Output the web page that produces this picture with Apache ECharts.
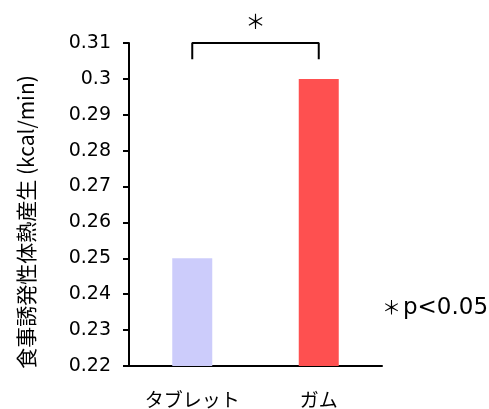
<!DOCTYPE html>
<html><head><meta charset="utf-8">
<script src="https://cdn.jsdelivr.net/npm/echarts@6/dist/echarts.min.js"></script>
<style>html,body{margin:0;padding:0;background:#fff}#c{width:489px;height:409px}</style>
</head><body><div id="c"></div>
<script>
var categories = ['タブレット', 'ガム'];
var values = [0.25, 0.30];
var barColors = ['#ccccfb', '#fe5050'];
var yTicks = { min: 0.22, max: 0.31, interval: 0.01 };
var bracketTop = 0.31;
var bracketFoot = 0.3055;
var yName = '食事誘発性体熱産生 (kcal/min)';
var sigMark = '＊';
var noteMark = '＊';
var noteText = 'p<0.05';

var chart = echarts.init(document.getElementById('c'));
var option = {
  animation: false,
  grid: { left: 129, right: 107, top: 43, bottom: 42 },
  xAxis: {
    type: 'category', data: categories,
    axisLine: { lineStyle: { color: '#000', width: 2 } },
    axisTick: { show: false },
    axisLabel: { color: '#000', fontSize: 19, margin: 24, fontFamily: '"Noto Sans CJK JP", sans-serif' }
  },
  yAxis: {
    type: 'value', min: yTicks.min, max: yTicks.max, interval: yTicks.interval,
    axisLine: { show: true, lineStyle: { color: '#000', width: 2 } },
    axisTick: { show: true, length: 6, lineStyle: { color: '#000', width: 2 } },
    axisLabel: { color: '#000', fontSize: 19, margin: 18, fontFamily: '"DejaVu Sans", sans-serif',
      formatter: function (v) { return String(parseFloat(v.toFixed(2))); } },
    splitLine: { show: false }
  },
  series: [
    {
      type: 'bar', barWidth: 40,
      data: values.map(function (v, i) { return { value: v, itemStyle: { color: barColors[i] } }; })
    },
    {
      type: 'line', symbol: 'none', clip: false,
      lineStyle: { color: '#000', width: 2 },
      data: [[categories[0], bracketFoot], [categories[0], bracketTop], [categories[1], bracketTop], [categories[1], bracketFoot]]
    }
  ]
};
chart.setOption(option);
var left = chart.convertToPixel({ seriesIndex: 1 }, [0, bracketTop]);
var right = chart.convertToPixel({ seriesIndex: 1 }, [1, bracketTop]);
chart.setOption({
  graphic: [
    { type: 'text', x: 26, y: 222, rotation: Math.PI / 2,
      style: { text: yName, fontSize: 21, fill: '#000', align: 'center', verticalAlign: 'middle', fontFamily: '"Noto Sans CJK JP", sans-serif' } },
    { type: 'text', x: (left[0] + right[0]) / 2, y: left[1] - 22,
      style: { text: sigMark, fontSize: 20, fill: '#000', align: 'center', verticalAlign: 'middle', fontFamily: '"Noto Sans CJK JP", sans-serif' } },
    { type: 'text', x: 382, y: 308,
      style: { text: '{a|' + noteMark + '}{b|' + noteText + '}', align: 'left', verticalAlign: 'middle',
        rich: {
          a: { fontSize: 19, color: '#000', fontFamily: '"Noto Sans CJK JP", sans-serif', width: 21 },
          b: { fontSize: 23, color: '#000', fontFamily: '"DejaVu Sans", sans-serif' }
        } } }
  ]
});
</script></body></html>
